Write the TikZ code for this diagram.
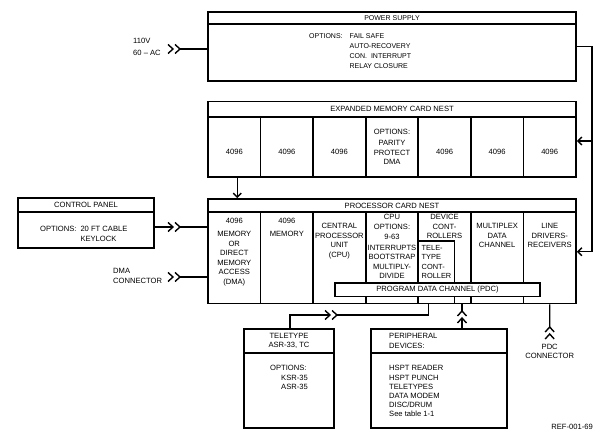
\documentclass[tikz,border=0pt]{standalone}
\usepackage{fontspec}
\setmainfont{Liberation Sans}
\usetikzlibrary{arrows.meta, positioning, calc}
\newcommand{\cardfont}{\fontsize{7.6}{9.5}\selectfont}
\newcommand{\psfont}{\fontsize{7}{9.8}\selectfont}

\tikzset{
    plug/.pic={
        \draw[line width=1.4pt] (-12,-4.5) -- (-7,0) -- (-12,4.5) (-5,-4.5) -- (0,0) -- (-5,4.5);
        \coordinate (-in) at (-7,0);
        \coordinate (-out) at (0,0);
    }
}

\begin{document}
\begin{tikzpicture}[x=1pt, y=-1pt,
    band/.style={rectangle, draw, line width=1.7pt, inner sep=0pt, align=center, minimum width=368, font=\cardfont},
    cell/.style={rectangle, draw, line width=1.7pt, inner sep=0pt, minimum width=52.57},
    txt/.style={inner sep=0pt, align=center, font=\cardfont},
    wire/.style={line width=1.4pt},
    arrow/.style={-{Straight Barb[length=4pt, width=8pt]}, line width=1.4pt}
]
\useasboundingbox (0,0) rectangle (611,446);

% Power supply
\node[band, minimum height=12, font=\psfont] (pstitle) at (392,18.3) {POWER SUPPLY};
\node[band, minimum height=56.4] (power) at (392,52.5) {};
\node[txt, anchor=north west, font=\psfont] (psopts) at (309,31.6) {\begin{tabular}{@{}l@{\hspace{7pt}}l@{}}OPTIONS: & FAIL SAFE\\ & AUTO-RECOVERY\\ & CON.\ \ INTERRUPT\\ & RELAY CLOSURE\end{tabular}};
\node[txt, anchor=north west, align=left] (acin) at (133,37.8) {110V\\[2.5pt]60 -- AC};

% Expanded memory card nest
\node[band, minimum height=15.2] (emtitle) at (392,109.1) {EXPANDED MEMORY CARD NEST};
\foreach \i in {1,...,7}
    \node[cell, minimum height=60] (em\i) at ({208+52.57*(\i-0.5)}, 146.7) {};
\foreach \i in {1,2,3,5,6,7}
    \node[txt] (emtxt\i) at (em\i |- 0,151.5) {4096};
\node[txt, anchor=north] (emtxt4) at (em4 |- 0,129.3) {OPTIONS:\\[1.5pt]PARITY\\PROTECT\\DMA};

% Processor card nest
\node[band, minimum height=13.3] (pctitle) at (392,205.6) {PROCESSOR CARD NEST};
\foreach \i in {1,...,7}
    \node[cell, minimum height=91.2] (pc\i) at ({208+52.57*(\i-0.5)}, 257.9) {};
\node[rectangle, draw, line width=1.7pt, minimum width=36.5, minimum height=62.5] (ttc) at (436.25,272.25) {};
\node[band, fill=white, minimum width=205, minimum height=13.5] (pdc) at (437.5,289.75) {PROGRAM DATA CHANNEL (PDC)};

\node[txt, anchor=north] (pctxt1) at (pc1 |- 0,218.3) {4096\\[3.5pt]MEMORY\\OR\\DIRECT\\MEMORY\\ACCESS\\(DMA)};
\node[txt, anchor=north] (pctxt2) at (pc2 |- 0,218.3) {4096\\[3.5pt]MEMORY};
\node[txt, anchor=north] (pctxt3) at (pc3 |- 0,223.3) {CENTRAL\\PROCESSOR\\UNIT\\(CPU)};
\node[txt, anchor=north] (pctxt4) at (pc4 |- 0,214.1) {CPU\\OPTIONS:\\[1pt]9-63\\[1pt]INTERRUPTS\\BOOTSTRAP\\MULTIPLY-\\DIVIDE};
\node[txt, anchor=north] (pctxt5) at (pc5 |- 0,214.1) {DEVICE\\CONT-\\ROLLERS};
\node[txt, anchor=north west, align=left, font=\fontsize{7.4}{9.3}\selectfont] (ttctxt) at (421.5,245.3) {TELE-\\TYPE\\CONT-\\ROLLER};
\node[txt, anchor=north] (pctxt6) at (pc6 |- 0,223.3) {MULTIPLEX\\DATA\\CHANNEL};
\node[txt, anchor=north] (pctxt7) at (pc7 |- 0,223.3) {LINE\\DRIVERS-\\RECEIVERS};

% Control panel and DMA connector
\node[band, minimum width=136, minimum height=14] (cptitle) at (86,205) {CONTROL PANEL};
\node[band, minimum width=136, minimum height=36] (cpanel) at (86,230) {};
\node[txt, anchor=north west] (cpopts) at (40,225) {\begin{tabular}{@{}l@{\hspace{4pt}}l@{}}OPTIONS: & 20 FT CABLE\\ & KEYLOCK\end{tabular}};
\node[txt, anchor=north west, align=left] (dmatxt) at (113,268.3) {DMA\\CONNECTOR};

% Teletype and peripherals
\node[band, minimum width=90, minimum height=24] (tytitle) at (289,341) {TELETYPE\\ASR-33, TC};
\node[band, minimum width=90, minimum height=75] (tty) at (289,390.5) {};
\node[txt, anchor=north west, align=left] (tyopts) at (270,365.3) {OPTIONS:\\\hspace*{11pt}KSR-35\\\hspace*{11pt}ASR-35};
\node[band, minimum width=136, minimum height=24] (pdtitle) at (439,341) {};
\node[txt, anchor=west, align=left] (pdhead) at (389,341) {PERIPHERAL\\DEVICES:};
\node[band, minimum width=136, minimum height=75] (periph) at (439,390.5) {};
\node[txt, anchor=north west, align=left, font=\fontsize{7.6}{9.2}\selectfont] (pdlist) at (389,365.3) {HSPT READER\\HSPT PUNCH\\TELETYPES\\DATA MODEM\\DISC/DRUM\\See table 1-1};
\node[txt] (pdctxt) at (549.7,351.5) {PDC\\CONNECTOR};
\node[txt, anchor=east] (ref) at (593,427) {REF-001-69};

% Plugs
\pic (ac) at (180,49) {plug};
\pic (cp) at (180,227) {plug};
\pic (dma) at (180,277) {plug};
\pic (tp) at (337,315) {plug};
\pic[rotate=90] (pp) at (462,311) {plug};
\pic[rotate=90] (pdcplug) at (549.7,327) {plug};

% Paths
\draw[wire] (ac-out) -- (ac-out -| power.west);
\draw[wire] (cpanel.east |- cp-in) -- (cp-in);
\draw[wire] (cp-out) -- (cp-out -| pc1.west);
\draw[wire] (dma-out) -- (dma-out -| pc1.west);

\coordinate (rail) at (592,46.7);
\draw[wire] (power.east |- rail) -- (rail) -- (rail |- 0,251.7);
\draw[arrow] (rail |- 0,141) -- (em7.east |- 0,141);
\draw[arrow] (rail |- 0,251.7) -- (pc7.east |- 0,251.7);
\draw[arrow] ([xshift=3]em1.south) -- ([xshift=3]em1.south |- pctitle.north);

\draw[wire] ([xshift=-8]ttc.south) |- (tp-out);
\draw[wire] ([xshift=1]tytitle.north) |- (tp-in);
\draw[wire] (pp-out) -- (pp-out |- pc5.south);
\draw[wire] (pp-in) -- (pp-in |- pdtitle.north);
\draw[wire] (pc7.south) -- (pdcplug-out);

\end{tikzpicture}
\end{document}
